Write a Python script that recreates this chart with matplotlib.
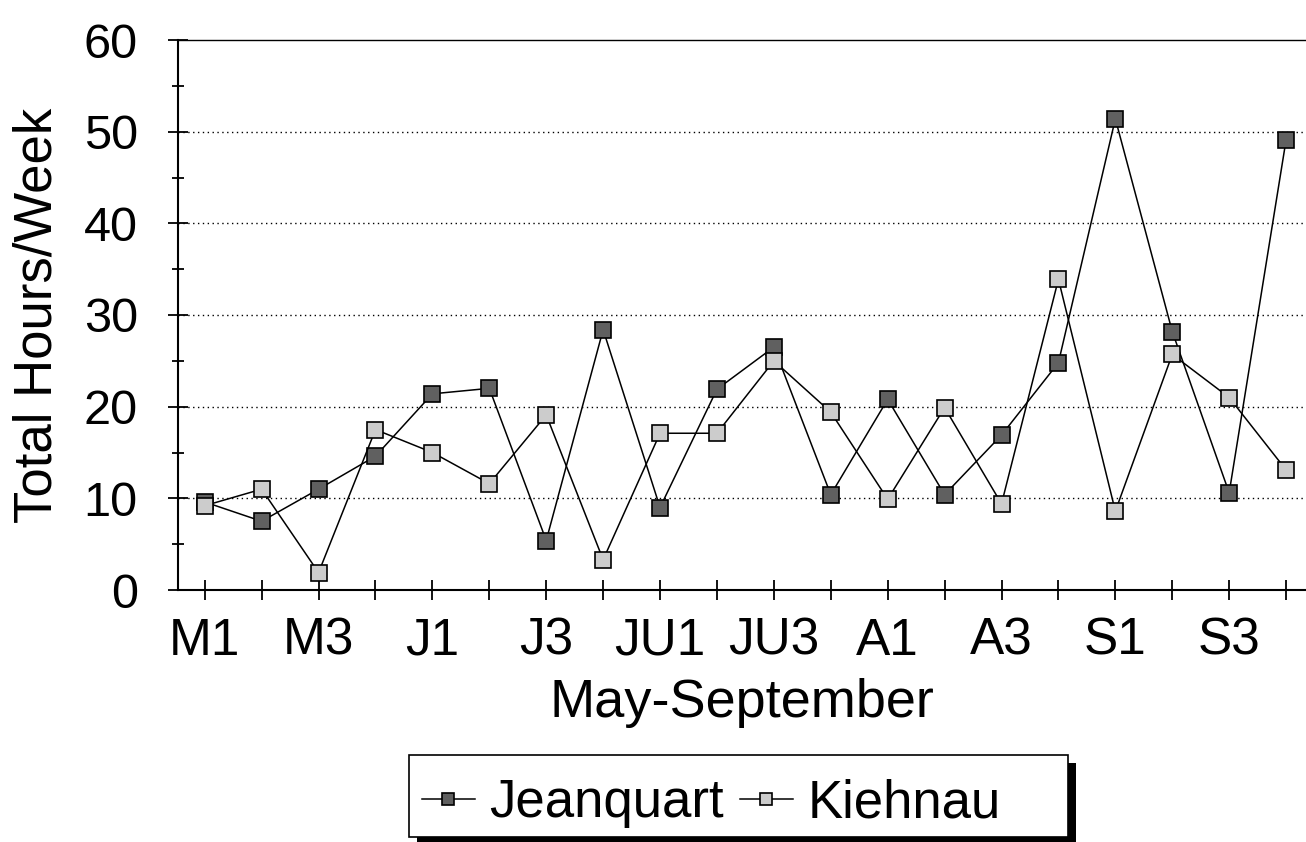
import numpy as np
import matplotlib
matplotlib.use("Agg")
import matplotlib.pyplot as plt
from matplotlib.ticker import MultipleLocator
from matplotlib.patches import Rectangle

plt.rcParams['font.family'] = ['Liberation Sans', 'DejaVu Sans']

# weeks May-September, four per month
weeks = ["M1", "M2", "M3", "M4", "J1", "J2", "J3", "J4",
         "JU1", "JU2", "JU3", "JU4", "A1", "A2", "A3", "A4",
         "S1", "S2", "S3", "S4"]
jeanquart = [9.6, 7.5, 11.0, 14.6, 21.4, 22.0, 5.4, 28.4, 9.0, 21.9,
             26.5, 10.4, 20.8, 10.4, 16.9, 24.8, 51.4, 28.2, 10.6, 49.1]
kiehnau = [9.2, 11.0, 1.9, 17.5, 15.0, 11.6, 19.1, 3.3, 17.1, 17.1,
           25.0, 19.4, 9.9, 19.9, 9.4, 33.9, 8.6, 25.7, 21.0, 13.1]

W, H = 1306, 842
fig = plt.figure(figsize=(W / 100, H / 100), dpi=100)
ax = fig.add_axes([178 / W, 1 - 590 / H, 1128 / W, 550 / H])

x = np.arange(len(weeks))
ax.plot(x, jeanquart, color="black", lw=1.1, marker="s", markersize=12,
        markerfacecolor="#606060", markeredgecolor="black", markeredgewidth=1.2,
        label="Jeanquart", zorder=3)
ax.plot(x, kiehnau, color="black", lw=1.1, marker="s", markersize=12,
        markerfacecolor="#cccccc", markeredgecolor="black", markeredgewidth=1.2,
        label="Kiehnau", zorder=3)

ax.set_xlim(-0.47, 19.35)
ax.set_ylim(0, 60)
ax.set_xticks(x)
ax.set_xticklabels([w if i % 2 == 0 else "" for i, w in enumerate(weeks)])
ax.yaxis.set_major_locator(MultipleLocator(10))
ax.yaxis.set_minor_locator(MultipleLocator(5))

for yv in range(10, 60, 10):
    ax.axhline(yv, color="black", lw=1.0, ls=(0, (1, 2.5)), zorder=1)

ax.spines["right"].set_visible(False)
ax.spines["top"].set_linewidth(1.0)
ax.spines["left"].set_linewidth(1.5)
ax.spines["bottom"].set_linewidth(1.5)

ax.tick_params(axis="x", direction="inout", length=15, width=1.3,
               labelsize=37, pad=39)
for lbl in ax.get_xticklabels():
    lbl.set_verticalalignment("baseline")
ax.tick_params(axis="y", which="major", direction="inout", length=14,
               width=1.3, labelsize=35, pad=22)
ax.tick_params(axis="y", which="minor", direction="inout", length=8,
               width=1.3)

ax.set_xlabel("May-September", fontsize=39, labelpad=9)
ax.set_ylabel("Total Hours/Week", fontsize=38, labelpad=15)

# legend: text and handles, box drawn separately with a heavy shadow
leg = ax.legend(loc="upper left", bbox_to_anchor=(422 / W, 1 - 778 / H),
                bbox_transform=fig.transFigure, ncol=2, fontsize=38,
                handlelength=1.0, handletextpad=0.28, columnspacing=0.3,
                markerscale=0.7, frameon=False, borderpad=0, borderaxespad=0)

box_x0, box_y0, box_w, box_h = 409, 5, 659, 82
fig.add_artist(Rectangle(((box_x0 + 8) / W, (box_y0 - 8) / H), box_w / W, box_h / H,
                         transform=fig.transFigure, facecolor="black",
                         edgecolor="none", zorder=-2))
fig.add_artist(Rectangle((box_x0 / W, box_y0 / H), box_w / W, box_h / H,
                         transform=fig.transFigure, facecolor="white",
                         edgecolor="black", lw=1.2, zorder=-1))

fig.savefig("out.png", dpi=100)
